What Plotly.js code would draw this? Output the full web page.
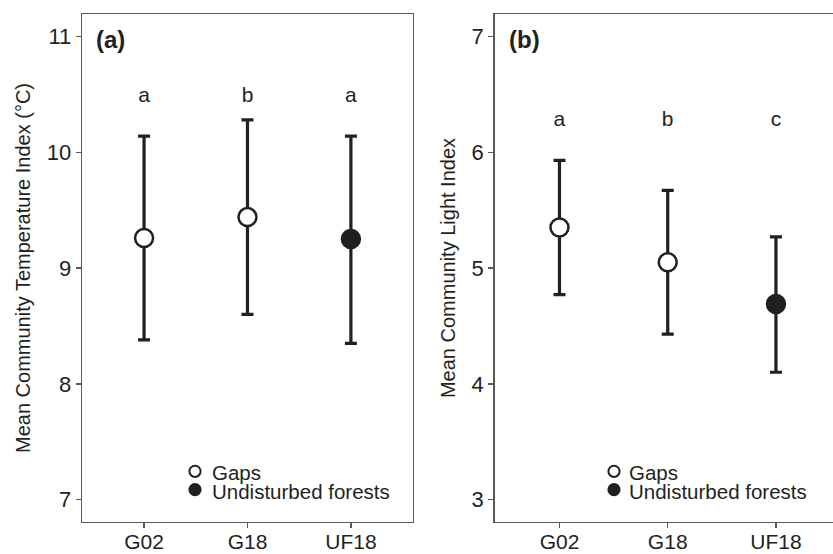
<!DOCTYPE html>
<html>
<head>
<meta charset="utf-8">
<script src="https://cdn.plot.ly/plotly-3.0.1.min.js"></script>
<style>html,body{margin:0;padding:0;background:#fff;}#chart{width:833px;height:554px;}</style>
</head>
<body>
<div id="chart"></div>
<script>
// ---- data ----
var categories = ['G02', 'G18', 'UF18'];
var groups = ['Gaps', 'Gaps', 'Undisturbed forests'];
var legendLabels = ['Gaps', 'Undisturbed forests'];
var tempMean = [9.26, 9.44, 9.25];
var tempUpper = [10.14, 10.28, 10.14];
var tempLower = [8.38, 8.60, 8.35];
var tempLetters = ['a', 'b', 'a'];
var tempLetterY = [10.48, 10.48, 10.48];
var lightMean = [5.35, 5.05, 4.69];
var lightUpper = [5.93, 5.67, 5.27];
var lightLower = [4.77, 4.43, 4.10];
var lightLetters = ['a', 'b', 'c'];
var lightLetterY = [6.27, 6.27, 6.27];
var tempTicks = [7, 8, 9, 10, 11];
var lightTicks = [3, 4, 5, 6, 7];

var FONT = 'Liberation Sans, Arial, Helvetica, sans-serif';
var INK = '#231f20';
var FRAME = '#5a5a5a';

function pick(arr, idx) { return idx.map(function (i) { return arr[i]; }); }
function groupIdx(name) {
  var r = [];
  groups.forEach(function (g, i) { if (g === name) r.push(i); });
  return r;
}

var traces = [];
function addPanel(mean, upper, lower, letters, letterY, xa, ya) {
  legendLabels.forEach(function (g) {
    var idx = groupIdx(g);
    var m = pick(mean, idx);
    traces.push({
      type: 'scatter', mode: 'markers', name: g, showlegend: false,
      x: pick(categories, idx), y: m,
      xaxis: xa, yaxis: ya,
      marker: {
        symbol: 'circle', size: 18,
        color: g === 'Gaps' ? '#ffffff' : INK,
        line: {color: INK, width: 2.5}
      },
      error_y: {
        type: 'data', symmetric: false,
        array: pick(upper, idx).map(function (u, k) { return u - m[k]; }),
        arrayminus: pick(lower, idx).map(function (l, k) { return m[k] - l; }),
        color: INK, thickness: 3.2, width: 6
      },
      hoverinfo: 'x+y'
    });
  });
  traces.push({
    type: 'scatter', mode: 'text', x: categories, y: letterY, text: letters,
    xaxis: xa, yaxis: ya, showlegend: false,
    textfont: {family: FONT, size: 21, color: INK}, hoverinfo: 'skip'
  });
}
addPanel(tempMean, tempUpper, tempLower, tempLetters, tempLetterY, 'x', 'y');
addPanel(lightMean, lightUpper, lightLower, lightLetters, lightLetterY, 'x2', 'y2');

function xAxis(domain, anchor, range) {
  return {
    domain: domain, anchor: anchor, type: 'category',
    categoryorder: 'array', categoryarray: categories,
    range: range, showgrid: false, zeroline: false,
    showline: true, linecolor: FRAME, linewidth: 1.3, mirror: true,
    ticks: 'outside', ticklen: 5, tickwidth: 1.3, tickcolor: FRAME,
    ticklabelstandoff: -5,
    tickfont: {family: FONT, size: 21, color: INK}, fixedrange: true
  };
}
function yAxis(anchor, range, ticks, title, mirror, standoff) {
  return {
    anchor: anchor, range: range, showgrid: false, zeroline: false,
    tickvals: ticks, ticktext: ticks.map(String),
    showline: true, linecolor: FRAME, linewidth: 1.3, mirror: mirror,
    ticks: 'outside', ticklen: 5, tickwidth: 1.3, tickcolor: FRAME,
    tickfont: {family: FONT, size: 22, color: INK},
    title: {text: title, font: {family: FONT, size: 20, color: INK}, standoff: standoff},
    fixedrange: true
  };
}

// hand-made legends (one per panel), placed in paper coordinates
var PW = 751, PH = 508.2, ML = 82, PB = 521.7;
function px2x(px) { return (px - ML) / PW; }
function py2y(py) { return (PB - py) / PH; }
var legendRows = [471, 489.3];
var legendSymX = [195, 614];
var legendTextX = [210, 626.5];
var shapes = [], annotations = [];
[0, 1].forEach(function (p) {
  legendLabels.forEach(function (lab, r) {
    shapes.push({
      type: 'circle', xref: 'paper', yref: 'paper',
      xsizemode: 'pixel', ysizemode: 'pixel',
      xanchor: px2x(legendSymX[p]), yanchor: py2y(legendRows[r]),
      x0: -5.6, x1: 5.6, y0: -5.6, y1: 5.6,
      fillcolor: r === 0 ? '#ffffff' : INK,
      line: {color: INK, width: 2}
    });
    annotations.push({
      text: lab, xref: 'paper', yref: 'paper',
      x: px2x(legendTextX[p]), y: py2y(legendRows[r] + 1.5),
      xanchor: 'left', yanchor: 'middle', showarrow: false,
      font: {family: FONT, size: 20.5, color: INK}
    });
  });
});
annotations.push(
  {text: '<b>(a)</b>', xref: 'x domain', yref: 'y domain', x: 0.036, y: 0.95,
   xanchor: 'left', yanchor: 'middle', showarrow: false,
   font: {family: FONT, size: 24, color: INK}},
  {text: '<b>(b)</b>', xref: 'x2 domain', yref: 'y2 domain', x: 0.036, y: 0.95,
   xanchor: 'left', yanchor: 'middle', showarrow: false,
   font: {family: FONT, size: 24, color: INK}}
);

var layout = {
  width: 833, height: 554,
  margin: {l: 82, r: 0, t: 13.5, b: 32.3, pad: 0},
  paper_bgcolor: '#ffffff', plot_bgcolor: '#ffffff',
  font: {family: FONT, color: INK},
  showlegend: false,
  xaxis: xAxis([0, 0.4407], 'y', [-0.6, 2.6]),
  yaxis: yAxis('x', [6.807, 11.194], tempTicks, 'Mean Community Temperature Index (°C)', true, 10),
  xaxis2: xAxis([0.5493, 1], 'y2', [-0.6, 2.527]),
  yaxis2: yAxis('x2', [2.807, 7.194], lightTicks, 'Mean Community Light Index', false, 10),
  shapes: shapes,
  annotations: annotations
};

Plotly.newPlot('chart', traces, layout, {displayModeBar: false, staticPlot: true});
</script>
</body>
</html>
